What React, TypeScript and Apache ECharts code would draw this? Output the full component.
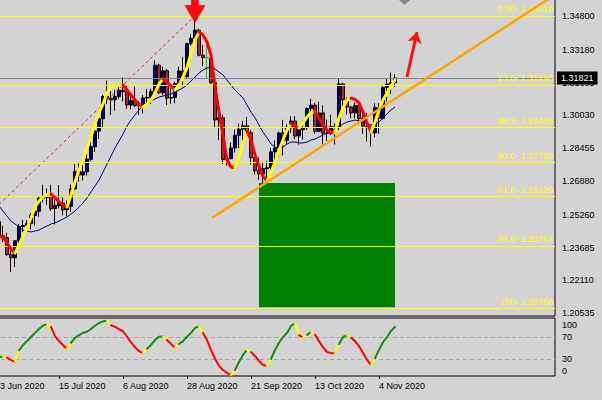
import { useEffect, useRef } from 'react';
import * as echarts from 'echarts';

const FONT = '"Liberation Sans", Arial, sans-serif';
const PANEL_BG = '#d3d3d3';
const BULL = '#000080';
const BEAR = '#a52a2a';
const DOJI = '#22c022';

// GBP/USD daily bars
const tradingDays = [
  '2020-06-23', '2020-06-24', '2020-06-25', '2020-06-26', '2020-06-29', '2020-06-30',
  '2020-07-01', '2020-07-02', '2020-07-03', '2020-07-06', '2020-07-07', '2020-07-08', '2020-07-09', '2020-07-10',
  '2020-07-13', '2020-07-14', '2020-07-15', '2020-07-16', '2020-07-17', '2020-07-20', '2020-07-21', '2020-07-22',
  '2020-07-23', '2020-07-24', '2020-07-27', '2020-07-28', '2020-07-29', '2020-07-30', '2020-07-31',
  '2020-08-03', '2020-08-04', '2020-08-05', '2020-08-06', '2020-08-07', '2020-08-10', '2020-08-11', '2020-08-12',
  '2020-08-13', '2020-08-14', '2020-08-17', '2020-08-18', '2020-08-19', '2020-08-20', '2020-08-21', '2020-08-24',
  '2020-08-25', '2020-08-26', '2020-08-27', '2020-08-28', '2020-08-31',
  '2020-09-01', '2020-09-02', '2020-09-03', '2020-09-04', '2020-09-07', '2020-09-08', '2020-09-09', '2020-09-10',
  '2020-09-11', '2020-09-14', '2020-09-15', '2020-09-16', '2020-09-17', '2020-09-18', '2020-09-21', '2020-09-22',
  '2020-09-23', '2020-09-24', '2020-09-25', '2020-09-28', '2020-09-29', '2020-09-30',
  '2020-10-01', '2020-10-02', '2020-10-05', '2020-10-06', '2020-10-07', '2020-10-08', '2020-10-09', '2020-10-12',
  '2020-10-13', '2020-10-14', '2020-10-15', '2020-10-16', '2020-10-19', '2020-10-20', '2020-10-21', '2020-10-22',
  '2020-10-23', '2020-10-26', '2020-10-27', '2020-10-28', '2020-10-29', '2020-10-30',
  '2020-11-02', '2020-11-03', '2020-11-04', '2020-11-05', '2020-11-06', '2020-11-09', '2020-11-10',
];

const openPrices = [
  1.2455, 1.2493, 1.2426, 1.2416, 1.2335, 1.2320, 1.2401, 1.2470, 1.2475, 1.2484,
  1.2523, 1.2543, 1.2605, 1.2609, 1.2621, 1.2556, 1.2571, 1.2582, 1.2550, 1.2566,
  1.2650, 1.2733, 1.2717, 1.2732, 1.2793, 1.2853, 1.2928, 1.2987, 1.3094, 1.3085,
  1.3078, 1.3094, 1.3124, 1.3117, 1.3053, 1.3074, 1.3050, 1.3049, 1.3087, 1.3089,
  1.3118, 1.3244, 1.3112, 1.3217, 1.3086, 1.3089, 1.3155, 1.3216, 1.3190, 1.3347,
  1.3372, 1.3412, 1.3292, 1.3280, 1.3276, 1.3160, 1.2981, 1.2992, 1.2792, 1.2795,
  1.2847, 1.2908, 1.2937, 1.2953, 1.2920, 1.2801, 1.2737, 1.2722, 1.2748, 1.2752,
  1.2828, 1.2846, 1.2919, 1.2883, 1.2943, 1.2976, 1.2904, 1.2935, 1.2944, 1.3036,
  1.3052, 1.2927, 1.3015, 1.2918, 1.2916, 1.2949, 1.2945, 1.3154, 1.3079, 1.3043,
  1.3015, 1.3050, 1.2988, 1.2952, 1.2946, 1.2920, 1.3040, 1.2989, 1.3137, 1.3153,
  1.3160,
];
const highPrices = [
  1.2541, 1.2541, 1.2474, 1.2440, 1.2370, 1.2405, 1.2482, 1.2502, 1.2500, 1.2535,
  1.2565, 1.2614, 1.2670, 1.2652, 1.2670, 1.2600, 1.2669, 1.2610, 1.2594, 1.2671,
  1.2769, 1.2773, 1.2774, 1.2815, 1.2887, 1.2934, 1.2991, 1.3102, 1.3170, 1.3120,
  1.3125, 1.3143, 1.3185, 1.3144, 1.3110, 1.3142, 1.3072, 1.3100, 1.3130, 1.3131,
  1.3267, 1.3251, 1.3237, 1.3226, 1.3134, 1.3165, 1.3237, 1.3284, 1.3352, 1.3393,
  1.3482, 1.3419, 1.3340, 1.3352, 1.3284, 1.3172, 1.3035, 1.3006, 1.2828, 1.2873,
  1.2935, 1.2963, 1.2976, 1.2995, 1.2931, 1.2835, 1.2802, 1.2775, 1.2785, 1.2847,
  1.2883, 1.2925, 1.2982, 1.2960, 1.2999, 1.3000, 1.2944, 1.2977, 1.3042, 1.3083,
  1.3063, 1.3068, 1.3052, 1.2983, 1.3006, 1.2965, 1.3177, 1.3160, 1.3089, 1.3049,
  1.3064, 1.3055, 1.3026, 1.3015, 1.2954, 1.3061, 1.3062, 1.3144, 1.3177, 1.3209,
  1.3200,
];
const lowPrices = [
  1.2449, 1.2420, 1.2395, 1.2329, 1.2252, 1.2276, 1.2375, 1.2444, 1.2455, 1.2457,
  1.2475, 1.2517, 1.2585, 1.2574, 1.2545, 1.2480, 1.2557, 1.2524, 1.2520, 1.2541,
  1.2644, 1.2685, 1.2691, 1.2715, 1.2785, 1.2828, 1.2890, 1.2944, 1.3057, 1.3005,
  1.3026, 1.3082, 1.3070, 1.3035, 1.3032, 1.3044, 1.3005, 1.3012, 1.3056, 1.3058,
  1.3110, 1.3105, 1.3100, 1.3053, 1.3059, 1.3061, 1.3146, 1.3142, 1.3181, 1.3338,
  1.3350, 1.3286, 1.3239, 1.3180, 1.3154, 1.2946, 1.2884, 1.2770, 1.2762, 1.2793,
  1.2825, 1.2846, 1.2863, 1.2911, 1.2767, 1.2720, 1.2693, 1.2676, 1.2689, 1.2740,
  1.2772, 1.2806, 1.2811, 1.2862, 1.2919, 1.2888, 1.2863, 1.2887, 1.2933, 1.3009,
  1.2915, 1.2922, 1.2864, 1.2880, 1.2908, 1.2863, 1.2933, 1.3037, 1.3007, 1.2990,
  1.2989, 1.2961, 1.2915, 1.2878, 1.2854, 1.2898, 1.2915, 1.2984, 1.3070, 1.3106,
  1.3140,
];
const closePrices = [
  1.2493, 1.2426, 1.2416, 1.2335, 1.2320, 1.2401, 1.2470, 1.2475, 1.2484, 1.2523,
  1.2543, 1.2605, 1.2609, 1.2621, 1.2556, 1.2571, 1.2582, 1.2550, 1.2566, 1.2650,
  1.2733, 1.2717, 1.2732, 1.2793, 1.2853, 1.2928, 1.2987, 1.3094, 1.3085, 1.3078,
  1.3094, 1.3124, 1.3117, 1.3053, 1.3074, 1.3050, 1.3049, 1.3087, 1.3089, 1.3118,
  1.3244, 1.3112, 1.3217, 1.3086, 1.3089, 1.3155, 1.3216, 1.3190, 1.3347, 1.3372,
  1.3412, 1.3292, 1.3280, 1.3280, 1.3160, 1.2981, 1.2992, 1.2792, 1.2795, 1.2847,
  1.2908, 1.2937, 1.2953, 1.2920, 1.2801, 1.2737, 1.2722, 1.2748, 1.2752, 1.2828,
  1.2846, 1.2919, 1.2883, 1.2943, 1.2976, 1.2904, 1.2935, 1.2944, 1.3036, 1.3052,
  1.2927, 1.3015, 1.2918, 1.2916, 1.2949, 1.2945, 1.3154, 1.3079, 1.3043, 1.3015,
  1.3050, 1.2988, 1.2952, 1.2946, 1.2920, 1.3040, 1.2989, 1.3137, 1.3153, 1.3160,
  1.31821,
];

// fast smoothed average (yellow while rising, red while falling)
const trendMa = [
  1.2430, 1.2424, 1.2420, 1.2391, 1.2362, 1.2343, 1.2381, 1.2424, 1.2463, 1.2511,
  1.2564, 1.2592, 1.2611, 1.2624, 1.2627, 1.2607, 1.2588, 1.2573, 1.2564, 1.2621,
  1.2684, 1.2741, 1.2789, 1.2847, 1.2899, 1.2962, 1.3015, 1.3058, 1.3111, 1.3139,
  1.3144, 1.3146, 1.3149, 1.3125, 1.3101, 1.3077, 1.3058, 1.3043, 1.3058, 1.3077,
  1.3111, 1.3154, 1.3178, 1.3163, 1.3144, 1.3125, 1.3149, 1.3187, 1.3231, 1.3302,
  1.3365, 1.3403, 1.3389, 1.3355, 1.3293, 1.3139, 1.3019, 1.2909, 1.2789, 1.2755,
  1.2753, 1.2803, 1.2871, 1.2928, 1.2885, 1.2813, 1.2760, 1.2712, 1.2688, 1.2731,
  1.2779, 1.2837, 1.2885, 1.2933, 1.2962, 1.2952, 1.2943, 1.2967, 1.2995, 1.3017,
  1.3020, 1.2991, 1.2957, 1.2933, 1.2923, 1.2919, 1.2991, 1.3039, 1.3077, 1.3085,
  1.3080, 1.3063, 1.3019, 1.2967, 1.2923, 1.2971, 1.3029, 1.3077, 1.3111, 1.3144,
  1.3173,
];

// slow moving average (navy)
const slowMa = [
  1.2592, 1.2568, 1.2544, 1.2520, 1.2496, 1.2482, 1.2468, 1.2453, 1.2448, 1.2444,
  1.2448, 1.2453, 1.2463, 1.2472, 1.2482, 1.2487, 1.2496, 1.2506, 1.2516, 1.2530,
  1.2544, 1.2564, 1.2583, 1.2607, 1.2636, 1.2664, 1.2693, 1.2731, 1.2770, 1.2808,
  1.2847, 1.2880, 1.2914, 1.2952, 1.2981, 1.3005, 1.3029, 1.3048, 1.3063, 1.3072,
  1.3082, 1.3091, 1.3096, 1.3101, 1.3106, 1.3115, 1.3125, 1.3135, 1.3149, 1.3168,
  1.3187, 1.3206, 1.3221, 1.3231, 1.3235, 1.3226, 1.3211, 1.3197, 1.3173, 1.3149,
  1.3125, 1.3106, 1.3087, 1.3053, 1.3019, 1.2991, 1.2957, 1.2923, 1.2895, 1.2866,
  1.2851, 1.2847, 1.2851, 1.2866, 1.2875, 1.2875, 1.2871, 1.2871, 1.2875, 1.2885,
  1.2890, 1.2899, 1.2909, 1.2919, 1.2928, 1.2938, 1.2947, 1.2962, 1.2971, 1.2976,
  1.2981, 1.2976, 1.2967, 1.2962, 1.2957, 1.2962, 1.2971, 1.2991, 1.3010, 1.3029,
  1.3043,
];

// 0..100 oscillator for the lower window
const oscillator = [
  33, 34, 35, 33, 28.5, 25.6, 46, 56, 63, 70.5,
  78, 85, 91.5, 94, 89, 72, 63, 56, 49, 60,
  69, 74, 78, 80, 85, 91, 96, 99, 100, 92,
  89, 85, 81, 71, 61, 52, 45, 41, 49, 56,
  65, 71, 71.5, 65, 58, 51, 58, 63, 71, 78,
  87, 90.5, 78, 65, 47, 31, 18, 10.5, 5, 1.5,
  10.5, 25, 38, 47, 43, 36, 27, 19.6, 18, 30.5,
  47, 60, 70.5, 78, 90.5, 96, 74, 70, 74, 80,
  75, 63, 52, 43, 41.5, 41, 58, 70.5, 74, 69,
  63, 54, 41.5, 29, 19.6, 32, 47, 61, 70.5, 81.5,
  89,
];

const priceTicks = [1.348, 1.3318, 1.31605, 1.3003, 1.28455, 1.2688, 1.2526, 1.23685, 1.2211, 1.20535];
const oscTicks = [100, 70, 30, 0];
const oscLevels = [70, 30];
const dateTicks = ['2020-06-23', '2020-07-15', '2020-08-06', '2020-08-28', '2020-09-21', '2020-10-13', '2020-11-04'];

// Fibonacci retracement from the May low to the September high
const fibLevels = [
  { ratio: '0.00', price: 1.3481 },
  { ratio: '23.6', price: 1.31496 },
  { ratio: '38.2', price: 1.29448 },
  { ratio: '50.0', price: 1.27788 },
  { ratio: '61.8', price: 1.26129 },
  { ratio: '78.6', price: 1.23767 },
  { ratio: '100', price: 1.20768 },
];
// [bar index, price]; bar -26 is 18 May 2020
const fibAnchors = [[-26, 1.20768], [50, 1.3481]];
const trendAnchors = [[54.25, 1.2511], [140, 1.3582]];
const targetArrow = [[103, 1.31873], [105.5, 1.34033]];
const supportBox = [[66, 1.2679], [100, 1.2082]];
const peakDay = '2020-09-01';

const MONTHS = ['Jan', 'Feb', 'Mar', 'Apr', 'May', 'Jun', 'Jul', 'Aug', 'Sep', 'Oct', 'Nov', 'Dec'];
function dayLabel(iso: string) {
  const [y, m, d] = iso.split('-').map(Number);
  return `${d} ${MONTHS[m - 1]} ${y}`;
}

// Split a per-bar line into polylines that share one colour per run
function colouredRuns(values: number[], colourOf: (k: number) => string) {
  const runs: { color: string; coords: number[][] }[] = [];
  let cur: { color: string; coords: number[][] } | null = null;
  for (let k = 1; k < values.length; k++) {
    const c = colourOf(k);
    if (!cur || cur.color !== c) {
      cur = { color: c, coords: [[k - 1, values[k - 1]]] };
      runs.push(cur);
    }
    cur.coords.push([k, values[k]]);
  }
  return runs.map((r) => ({ coords: r.coords, lineStyle: { color: r.color } }));
}

const ARROW_DOWN = 'path://M6.5,0 L13.5,0 L13.5,9 L20,9 L10,26 L0,9 L6.5,9 Z';

export default function App() {
  const ref = useRef<HTMLDivElement>(null);

  useEffect(() => {
    const chart = echarts.init(ref.current!, null, { renderer: 'svg' });
    const last = closePrices.length - 1;
    const peakIndex = tradingDays.indexOf(peakDay);

    const candles = tradingDays.map((_, i) => {
      const item: any = { value: [i, openPrices[i], closePrices[i], lowPrices[i], highPrices[i]] };
      if (openPrices[i] === closePrices[i]) {
        item.itemStyle = { color: DOJI, color0: DOJI, borderColor: DOJI, borderColor0: DOJI };
      }
      return item;
    });

    const trendRuns = colouredRuns(trendMa, (k) => (trendMa[k] >= trendMa[k - 1] ? '#ffff00' : '#ff0000'));
    const oscRuns = colouredRuns(oscillator, (k) => {
      const dir = Math.sign(oscillator[k] - oscillator[k - 1]);
      const prev = k > 1 ? Math.sign(oscillator[k - 1] - oscillator[k - 2]) : dir;
      if (dir !== prev) return '#ffff00';
      return dir > 0 ? '#178a17' : '#ff0000';
    });

    const dateIdx = dateTicks.map((d) => tradingDays.indexOf(d));
    const axisText = { color: '#000', fontSize: 9, fontFamily: FONT };

    chart.setOption({
      animation: false,
      backgroundColor: PANEL_BG,
      textStyle: { fontFamily: FONT },
      grid: [
        {
          left: -6, top: -1, width: 561, height: 317, outerBoundsMode: 'none', containLabel: false,
          show: true, borderColor: '#000', borderWidth: 1, backgroundColor: 'transparent',
        },
        {
          left: -6, top: 318, width: 561, height: 58, outerBoundsMode: 'none', containLabel: false,
          show: true, borderColor: '#000', borderWidth: 1, backgroundColor: 'transparent',
        },
      ],
      xAxis: [
        { gridIndex: 0, type: 'value', min: -0.25, max: 140, show: false },
        {
          gridIndex: 1, type: 'value', min: -0.25, max: 140,
          axisLine: { show: false },
          splitLine: { show: false },
          axisTick: { show: true, customValues: dateIdx, length: 3, lineStyle: { color: '#000' } },
          axisLabel: {
            ...axisText, customValues: dateIdx, align: 'left', margin: 5,
            formatter: (v: number) => dayLabel(tradingDays[Math.round(v)]),
          },
        },
      ],
      yAxis: [
        {
          gridIndex: 0, type: 'value', position: 'right', min: 1.20405, max: 1.35616,
          axisLine: { show: false },
          splitLine: { show: false },
          axisTick: { show: true, customValues: priceTicks, length: 4, lineStyle: { color: '#000' } },
          axisLabel: { ...axisText, customValues: priceTicks, margin: 7, formatter: (v: number) => v.toFixed(5) },
        },
        {
          gridIndex: 1, type: 'value', position: 'right', min: -0.4, max: 105.1,
          axisLine: { show: false },
          splitLine: { show: false },
          axisTick: { show: true, customValues: oscTicks, length: 3, lineStyle: { color: '#000' } },
          axisLabel: {
            ...axisText, customValues: oscTicks, margin: 7,
            formatter: (v: number) => (v === 100 ? '{hi|100}' : v === 0 ? '{lo|0}' : String(v)),
            rich: {
              hi: { ...axisText, padding: [8, 0, 0, 0] },
              lo: { ...axisText, padding: [0, 0, 9, 0] },
            },
          },
        },
      ],
      series: [
        {
          name: 'box', type: 'line', data: [], xAxisIndex: 0, yAxisIndex: 0, z: 1,
          markArea: {
            silent: true,
            itemStyle: { color: '#008000', opacity: 1 },
            data: [[{ coord: supportBox[0] }, { coord: supportBox[1] }]],
          },
        },
        {
          name: 'fib', type: 'line', data: [], xAxisIndex: 0, yAxisIndex: 0, z: 2,
          markLine: {
            silent: true, symbol: 'none', precision: 5,
            lineStyle: { color: '#ffff00', width: 1, type: 'solid', opacity: 1 },
            label: { show: true, position: 'insideEndTop', color: '#ffff00', fontSize: 9, fontFamily: FONT, distance: 2, formatter: '{b}' },
            data: fibLevels.map((f) => ({ yAxis: f.price, name: `${f.ratio}- ${f.price.toFixed(5)}` })),
          },
        },
        {
          name: 'price', type: 'candlestick', xAxisIndex: 0, yAxisIndex: 0, z: 3,
          barWidth: 3,
          encode: { x: 0, y: [1, 2, 3, 4] },
          itemStyle: { color: BULL, color0: BEAR, borderColor: '#000', borderColor0: '#1a0505', borderWidth: 1 },
          data: candles,
          markLine: {
            silent: true, symbol: 'none', precision: 5,
            lineStyle: { color: '#778899', width: 1, type: 'solid', opacity: 1 },
            label: {
              show: true, position: 'end', distance: 2,
              formatter: (p: any) => Number(p.value).toFixed(5),
              backgroundColor: '#000', color: '#fff', fontSize: 9, fontFamily: FONT, padding: [2, 4, 2, 4],
            },
            data: [{ yAxis: closePrices[last] }],
          },
          markPoint: {
            silent: true,
            data: [{
              coord: [peakIndex, highPrices[peakIndex]],
              symbol: ARROW_DOWN, symbolSize: [20, 26], symbolOffset: [0, -6],
              itemStyle: { color: '#ff0a0a', borderColor: '#b00000', borderWidth: 0.5 },
              label: { show: false },
            }],
          },
        },
        {
          name: 'fibLine', type: 'line', xAxisIndex: 0, yAxisIndex: 0, z: 4,
          data: fibAnchors, symbol: 'none', clip: true,
          lineStyle: { color: '#e02020', width: 1, type: [3, 3] },
        },
        {
          name: 'slow', type: 'line', xAxisIndex: 0, yAxisIndex: 0, z: 4,
          data: slowMa.map((v, i) => [i, v]), symbol: 'none',
          lineStyle: { color: '#000080', width: 1 },
        },
        {
          name: 'trend', type: 'lines', coordinateSystem: 'cartesian2d', xAxisIndex: 0, yAxisIndex: 0, z: 5,
          polyline: true, clip: true,
          lineStyle: { width: 3, cap: 'round', join: 'round', opacity: 1 },
          data: trendRuns,
        },
        {
          name: 'trendline', type: 'line', xAxisIndex: 0, yAxisIndex: 0, z: 6,
          data: trendAnchors, symbol: 'none', clip: true,
          lineStyle: { color: '#ffa500', width: 2.5 },
        },
        {
          name: 'target', type: 'line', data: [], xAxisIndex: 0, yAxisIndex: 0, z: 7,
          markLine: {
            silent: true, symbol: ['none', 'arrow'], symbolSize: 11, precision: 5,
            lineStyle: { color: '#ff1010', width: 3, type: 'solid', opacity: 1 },
            label: { show: false },
            data: [[{ coord: targetArrow[0] }, { coord: targetArrow[1] }]],
          },
        },
        {
          name: 'oscLevels', type: 'line', data: [], xAxisIndex: 1, yAxisIndex: 1, z: 2,
          markLine: {
            silent: true, symbol: 'none',
            lineStyle: { color: '#a6a6a6', width: 1, type: [4, 3], opacity: 1 },
            label: { show: false },
            data: oscLevels.map((v) => ({ yAxis: v })),
          },
        },
        {
          name: 'osc', type: 'lines', coordinateSystem: 'cartesian2d', xAxisIndex: 1, yAxisIndex: 1, z: 5,
          polyline: true, clip: true,
          lineStyle: { width: 2, cap: 'round', join: 'round', opacity: 1 },
          data: oscRuns,
        },
      ],
      graphic: [
        { type: 'polygon', shape: { points: [[399, 0], [410, 0], [404.5, 5]] }, style: { fill: '#8a8a8a' }, z: 100 },
      ],
    });

    return () => chart.dispose();
  }, []);

  return (
    <div
      ref={ref}
      style={{ position: 'fixed', left: 0, top: 0, width: 602, height: 400, background: PANEL_BG }}
    />
  );
}
